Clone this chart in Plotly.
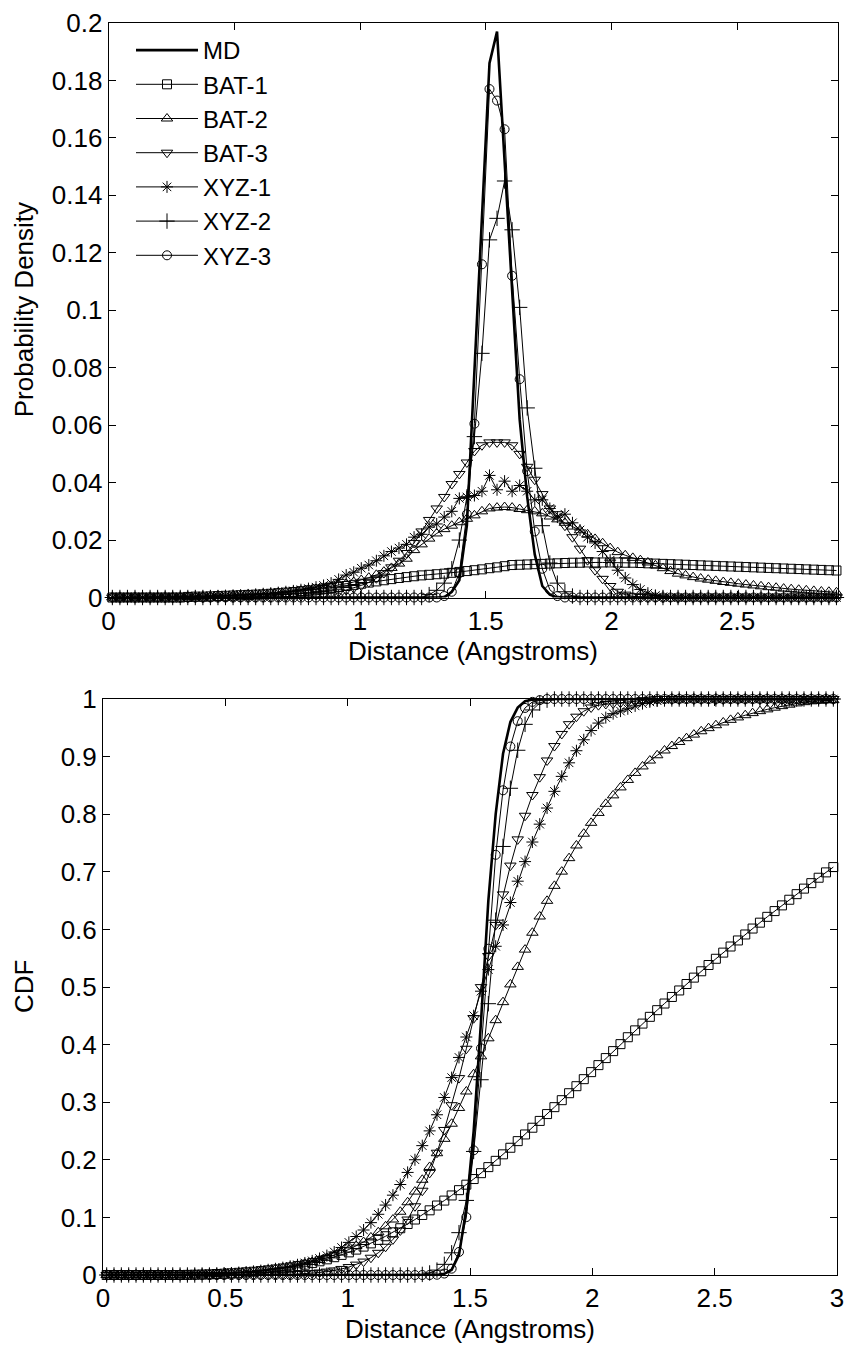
import numpy as np
import plotly.graph_objects as go

# bin centres (distance, Angstroms)
X = np.round(0.015 + 0.03 * np.arange(100), 3)

series_names = ["MD", "BAT-1", "BAT-2", "BAT-3", "XYZ-1", "XYZ-2", "XYZ-3"]

# ---------------- probability density (top panel) ----------------
MD_PDF = [0]*45 + [0.002, 0.006, 0.025, 0.078, 0.13,
                   0.186, 0.197, 0.152, 0.107, 0.062, 0.035, 0.015, 0.004, 0.001, 0] + [0]*40

BAT1_PDF = [0, 0, 0, 0, 0, 0, 0, 0, 0, 0,
            0.0002, 0.0003, 0.0003, 0.0004, 0.0005, 0.0006, 0.0007, 0.0008, 0.0009, 0.001,
            0.0011, 0.0013, 0.0015, 0.0017, 0.0019, 0.0022, 0.0025, 0.0028, 0.0031, 0.0034,
            0.0037, 0.004, 0.0044, 0.0048, 0.0052, 0.0056, 0.006, 0.0064, 0.0068, 0.0071,
            0.0074, 0.0077, 0.0079, 0.0081, 0.0083, 0.0086, 0.0089, 0.0092, 0.0095, 0.0098,
            0.0102, 0.0105, 0.0109, 0.0113, 0.0114, 0.0115, 0.0116, 0.0117, 0.0118, 0.0119,
            0.012, 0.0121, 0.0121, 0.0122, 0.0122, 0.0122, 0.0122, 0.0122, 0.0121, 0.0121,
            0.012, 0.0119, 0.0118, 0.0117, 0.0116, 0.0115, 0.0114, 0.0113, 0.0112, 0.0111,
            0.011, 0.0109, 0.0108, 0.0107, 0.0106, 0.0105, 0.0104, 0.0103, 0.0102, 0.0101,
            0.01, 0.0099, 0.0098, 0.0097, 0.0096, 0.0095, 0.0094, 0.0093, 0.0092, 0.0091]

BAT2_PDF = [0, 0, 0, 0, 0, 0, 0, 0, 0.0001, 0.0001,
            0.0002, 0.0002, 0.0003, 0.0004, 0.0005, 0.0006, 0.0007, 0.0008, 0.001, 0.0011,
            0.0013, 0.0015, 0.0017, 0.0019, 0.0021, 0.0024, 0.0027, 0.003, 0.0034, 0.0038,
            0.0043, 0.0048, 0.0054, 0.0061, 0.0069, 0.0079, 0.009, 0.0103, 0.0118, 0.0135,
            0.0165, 0.0185, 0.0205, 0.0223, 0.0238, 0.025, 0.0262, 0.0274, 0.0286, 0.030,
            0.031, 0.0313, 0.0315, 0.0313, 0.0308, 0.0304, 0.030, 0.0293, 0.0282, 0.0272,
            0.026, 0.0247, 0.0234, 0.022, 0.0204, 0.0189, 0.0172, 0.0158, 0.0147, 0.0138,
            0.013, 0.0122, 0.0112, 0.0102, 0.0092, 0.0083, 0.0077, 0.0071, 0.0066, 0.0062,
            0.0058, 0.0054, 0.0051, 0.0048, 0.0045, 0.0042, 0.0039, 0.0036, 0.0034, 0.0031,
            0.0029, 0.0027, 0.0025, 0.0023, 0.0021, 0.002, 0.0018, 0.0017, 0.0016, 0.0015]

BAT3_PDF = [0]*20 + [
            0.0001, 0.0001, 0.0002, 0.0003, 0.0004, 0.0005, 0.0007, 0.0009, 0.0012, 0.0015,
            0.002, 0.0026, 0.0033, 0.0042, 0.0053, 0.0067, 0.0085, 0.0105, 0.0128, 0.0155,
            0.019, 0.023, 0.027, 0.031, 0.035, 0.0395, 0.043, 0.047, 0.051, 0.053,
            0.054, 0.054, 0.054, 0.053, 0.05, 0.0455, 0.041, 0.036, 0.031, 0.029,
            0.025, 0.021, 0.017, 0.013, 0.0095, 0.0065, 0.004, 0.002, 0.001, 0.0004,
            0.0002] + [0]*29

XYZ1_PDF = [0, 0, 0, 0, 0, 0, 0.0001, 0.0001, 0.0001, 0.0002,
            0.0002, 0.0003, 0.0003, 0.0004, 0.0005, 0.0006, 0.0007, 0.0008, 0.0009, 0.0011,
            0.0013, 0.0015, 0.0017, 0.002, 0.0023, 0.0027, 0.0031, 0.0036, 0.0042, 0.005,
            0.0063, 0.0078, 0.0088, 0.0102, 0.0113, 0.0128, 0.0145, 0.016, 0.0172, 0.0185,
            0.021, 0.022, 0.0245, 0.0256, 0.028, 0.030, 0.0345, 0.035, 0.0355, 0.037,
            0.0425, 0.0375, 0.0405, 0.037, 0.039, 0.037, 0.034, 0.034, 0.031, 0.028,
            0.029, 0.026, 0.0235, 0.021, 0.019, 0.016, 0.013, 0.0095, 0.0068, 0.0045,
            0.0028, 0.0015, 0.0007, 0.0003] + [0]*26

XYZ2_PDF = [0]*42 + [0.001, 0.0025, 0.005, 0.01, 0.02, 0.035, 0.056, 0.085,
                     0.1245, 0.132, 0.145, 0.128, 0.101, 0.066, 0.045, 0.025, 0.012, 0.005,
                     0.002, 0.0005] + [0]*38

XYZ3_PDF = [0]*44 + [0.0005, 0.002, 0.0085, 0.029, 0.0605, 0.116,
                     0.177, 0.173, 0.163, 0.112, 0.076, 0.044, 0.023, 0.01, 0.0027, 0.0005] + [0]*40

# ---------------- cumulative distribution (bottom panel) ----------------
MD_CDF = [0]*46 + [0.002, 0.009, 0.035, 0.115,
                   0.25, 0.44, 0.65, 0.80, 0.905, 0.96, 0.985, 0.996, 0.999] + [1.0]*41

BAT1_CDF = [0, 0, 0, 0, 0, 0, 0, 0, 0, 0,
            0, 0.0002, 0.0005, 0.0008, 0.0012, 0.0017, 0.0023, 0.003, 0.0038, 0.0047,
            0.0057, 0.0068, 0.0081, 0.0096, 0.0113, 0.0132, 0.0154, 0.0179, 0.0207, 0.0238,
            0.0272, 0.0309, 0.0349, 0.0393, 0.0441, 0.0493, 0.0549, 0.0609, 0.0673, 0.0741,
            0.0812, 0.0886, 0.0963, 0.1042, 0.1123, 0.1206, 0.1292, 0.1381, 0.1473, 0.1568,
            0.1666, 0.1768, 0.1873, 0.1982, 0.2095, 0.2209, 0.2324, 0.244, 0.2557, 0.2675,
            0.2794, 0.2914, 0.3035, 0.3156, 0.3278, 0.34, 0.3522, 0.3644, 0.3766, 0.3887,
            0.4008, 0.4128, 0.4247, 0.4365, 0.4482, 0.4598, 0.4713, 0.4827, 0.494, 0.5052,
            0.5163, 0.5273, 0.5382, 0.549, 0.5597, 0.5703, 0.5808, 0.5912, 0.6015, 0.6117,
            0.6218, 0.6318, 0.6417, 0.6515, 0.6612, 0.6708, 0.6803, 0.6897, 0.699, 0.7082]

BAT2_CDF = [0, 0, 0, 0, 0, 0, 0, 0, 0, 0.0001,
            0.0002, 0.0004, 0.0006, 0.0009, 0.0013, 0.0018, 0.0024, 0.0031, 0.0039, 0.0049,
            0.006, 0.0073, 0.0088, 0.0105, 0.0124, 0.0145, 0.0169, 0.0196, 0.0226, 0.026,
            0.0298, 0.0341, 0.0389, 0.0443, 0.0504, 0.0573, 0.0652, 0.0742, 0.0845, 0.0963,
            0.1098, 0.1263, 0.1448, 0.1653, 0.1876, 0.2114, 0.2364, 0.2626, 0.29, 0.3186,
            0.3486, 0.3796, 0.4109, 0.4424, 0.4737, 0.5045, 0.5349, 0.5649, 0.5942, 0.6224,
            0.6496, 0.6756, 0.7003, 0.7237, 0.7457, 0.7661, 0.785, 0.8022, 0.818, 0.8327,
            0.8465, 0.8595, 0.8717, 0.8829, 0.8931, 0.9023, 0.9106, 0.9183, 0.9254, 0.932,
            0.9382, 0.944, 0.9494, 0.9545, 0.9593, 0.9638, 0.968, 0.9719, 0.9755, 0.9789,
            0.982, 0.9849, 0.9876, 0.9901, 0.9924, 0.9945, 0.996, 0.997, 0.998, 0.998]

BAT3_CDF = [0]*21 + [
            0.0001, 0.0002, 0.0004, 0.0007, 0.0011, 0.0016, 0.0023, 0.0032, 0.0044,
            0.0059, 0.0079, 0.0105, 0.0138, 0.018, 0.0233, 0.03, 0.0385, 0.049, 0.0618,
            0.0773, 0.0963, 0.1193, 0.1463, 0.1773, 0.2123, 0.2518, 0.2948, 0.3418, 0.3928,
            0.4458, 0.4998, 0.5538, 0.6078, 0.6608, 0.7108, 0.7563, 0.7973, 0.8333, 0.8643,
            0.8933, 0.9183, 0.9393, 0.9563, 0.9693, 0.9788, 0.9853, 0.9893, 0.9913, 0.9923,
            0.9935, 0.995, 0.9965, 0.998, 0.999] + [1.0]*25

XYZ1_CDF = [0, 0, 0, 0, 0, 0, 0, 0.0001, 0.0002, 0.0003,
            0.0005, 0.0007, 0.001, 0.0013, 0.0017, 0.0022, 0.0028, 0.0035, 0.0043, 0.0052,
            0.0063, 0.0076, 0.0091, 0.0108, 0.0128, 0.0151, 0.0178, 0.0209, 0.0245, 0.0287,
            0.0337, 0.04, 0.0478, 0.0566, 0.0668, 0.0781, 0.0909, 0.1054, 0.1214, 0.1386,
            0.1571, 0.1781, 0.2001, 0.2246, 0.2502, 0.2782, 0.3082, 0.3427, 0.3777, 0.4132,
            0.4502, 0.4927, 0.5302, 0.5707, 0.6077, 0.6467, 0.6837, 0.7177, 0.7517, 0.7827,
            0.8107, 0.8397, 0.8657, 0.8892, 0.9102, 0.9292, 0.9452, 0.9582, 0.9677, 0.9745,
            0.979, 0.983, 0.988, 0.992, 0.995, 0.997, 0.999] + [1.0]*23

XYZ2_CDF = [0]*43 + [0.001, 0.0035, 0.0085, 0.0185, 0.0385, 0.0735, 0.1295,
                     0.2145, 0.339, 0.471, 0.616, 0.744, 0.845, 0.911, 0.956, 0.981, 0.993,
                     0.998] + [1.0]*39

XYZ3_CDF = [0]*45 + [0.0005, 0.0025, 0.011, 0.04, 0.1005,
                     0.2165, 0.3935, 0.5665, 0.7295, 0.8415, 0.9175, 0.9615, 0.9845, 0.995, 0.998] + [1.0]*40

PDF = [MD_PDF, BAT1_PDF, BAT2_PDF, BAT3_PDF, XYZ1_PDF, XYZ2_PDF, XYZ3_PDF]
CDF = [MD_CDF, BAT1_CDF, BAT2_CDF, BAT3_CDF, XYZ1_CDF, XYZ2_CDF, XYZ3_CDF]

TOP_X_TICKS = [0, 0.5, 1, 1.5, 2, 2.5]
TOP_Y_TICKS = [0, 0.02, 0.04, 0.06, 0.08, 0.1, 0.12, 0.14, 0.16, 0.18, 0.2]
BOT_X_TICKS = [0, 0.5, 1, 1.5, 2, 2.5, 3]
BOT_Y_TICKS = [0, 0.1, 0.2, 0.3, 0.4, 0.5, 0.6, 0.7, 0.8, 0.9, 1]

# ---------------- styling ----------------
W, H = 846, 1345
FONT = "Liberation Sans, Arial, sans-serif"
FS = 26
LEG_FS = 24
symbols = [None, "square-open", "triangle-up-open", "triangle-down-open",
           "asterisk-open", "cross-thin-open", "circle-open"]
msizes = [0, 9, 10, 10, 10, 11, 9]

TOP_XMAX = 2.9
mask_top = X <= TOP_XMAX + 1e-9


def style(i):
    if symbols[i] is None:
        return dict(mode="lines", line=dict(color="black", width=2.6))
    return dict(mode="lines+markers", line=dict(color="black", width=1),
                marker=dict(symbol=symbols[i], size=msizes[i], color="black",
                            line=dict(width=1, color="black")))


fig = go.Figure()
for i, name in enumerate(series_names):
    fig.add_trace(go.Scatter(x=X[mask_top], y=np.array(PDF[i])[mask_top], name=name,
                             xaxis="x", yaxis="y", cliponaxis=False, showlegend=True,
                             **style(i)))
for i, name in enumerate(series_names):
    fig.add_trace(go.Scatter(x=X, y=CDF[i], name=name, xaxis="x2", yaxis="y2",
                             cliponaxis=False, showlegend=False, **style(i)))


def fmt(v):
    return "%g" % v


axis_common = dict(showgrid=False, zeroline=False, showline=True, linecolor="black",
                   linewidth=1, mirror="ticks", ticks="inside", ticklen=7, tickwidth=1,
                   tickcolor="black", tickfont=dict(family=FONT, size=FS, color="black"),
                   automargin=False)

# pixel layout of the two axes boxes
top_box = dict(l=108.6, r=837.7, t=23, b=597.5)
bot_box = dict(l=103, r=837, t=699, b=1275)

fig.update_layout(
    width=W, height=H, margin=dict(l=0, r=0, t=0, b=0),
    paper_bgcolor="white", plot_bgcolor="white",
    font=dict(family=FONT, size=FS, color="black"),
    xaxis=dict(domain=[top_box["l"] / W, top_box["r"] / W], anchor="y",
               range=[0, TOP_XMAX], tickvals=TOP_X_TICKS,
               ticktext=[fmt(v) for v in TOP_X_TICKS], **axis_common),
    yaxis=dict(domain=[1 - top_box["b"] / H, 1 - top_box["t"] / H], anchor="x",
               range=[0, 0.2], tickvals=TOP_Y_TICKS,
               ticktext=[fmt(v) for v in TOP_Y_TICKS], **axis_common),
    xaxis2=dict(domain=[bot_box["l"] / W, bot_box["r"] / W], anchor="y2",
                range=[0, 3], tickvals=BOT_X_TICKS,
                ticktext=[fmt(v) for v in BOT_X_TICKS], **axis_common),
    yaxis2=dict(domain=[1 - bot_box["b"] / H, 1 - bot_box["t"] / H], anchor="x2",
                range=[0, 1], tickvals=BOT_Y_TICKS,
                ticktext=[fmt(v) for v in BOT_Y_TICKS], **axis_common),
    legend=dict(x=131 / W, y=1 - 28 / H, xanchor="left", yanchor="top",
                bgcolor="rgba(0,0,0,0)", borderwidth=0, itemwidth=62,
                font=dict(family=FONT, size=LEG_FS, color="black"),
                tracegroupgap=0),
    showlegend=True,
)

ann = [
    dict(text="Distance (Angstroms)", x=(top_box["l"] + top_box["r"]) / 2 / W,
         y=1 - 651 / H, textangle=0),
    dict(text="Distance (Angstroms)", x=(bot_box["l"] + bot_box["r"]) / 2 / W,
         y=1 - 1329 / H, textangle=0),
    dict(text="Probability Density", x=24 / W, y=1 - (top_box["t"] + top_box["b"]) / 2 / H,
         textangle=-90),
    dict(text="CDF", x=24 / W, y=1 - (bot_box["t"] + bot_box["b"]) / 2 / H, textangle=-90),
]
for a in ann:
    fig.add_annotation(xref="paper", yref="paper", showarrow=False,
                       xanchor="center", yanchor="middle",
                       font=dict(family=FONT, size=FS, color="black"), **a)

fig.write_html("out.html")
